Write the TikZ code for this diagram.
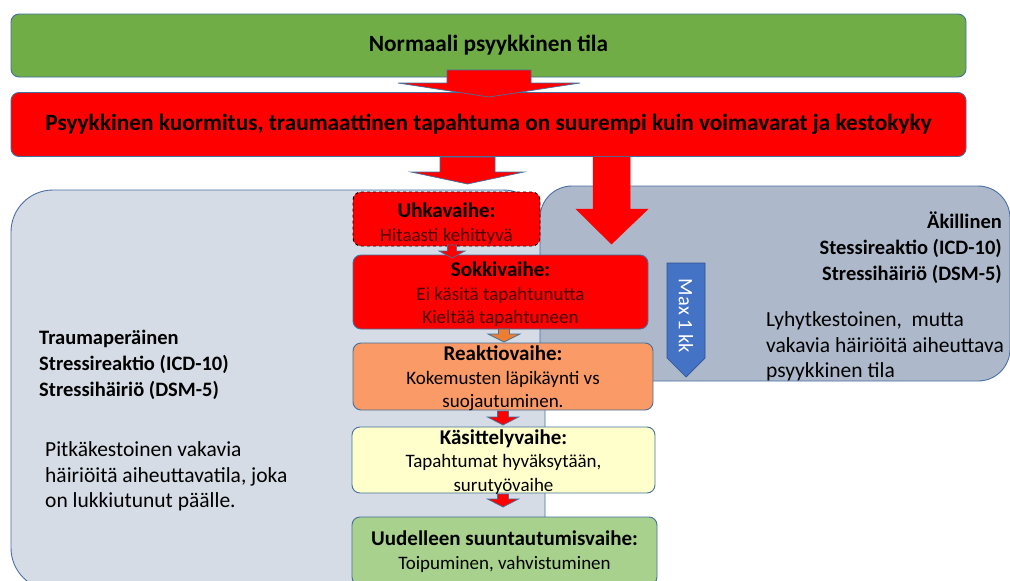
\documentclass[tikz,border=0pt]{standalone}
\usepackage{fontspec}
\setmainfont{Carlito}
\definecolor{bordc}{HTML}{41719C}
\definecolor{panelb}{HTML}{4A6FA5}
\definecolor{leftc}{HTML}{D6DCE5}
\definecolor{rightc}{HTML}{ADB9CA}
\definecolor{greentop}{HTML}{70AD47}
\definecolor{redc}{HTML}{FF0000}
\definecolor{orangec}{HTML}{FA9A66}
\definecolor{orangea}{HTML}{ED7D31}
\definecolor{yellowc}{HTML}{FFFFCC}
\definecolor{greenl}{HTML}{A9D18E}
\definecolor{bluea}{HTML}{4472C4}
\definecolor{bluead}{HTML}{2F528F}
\definecolor{darkred}{HTML}{4A0000}
\newcommand\blkarrow[7]{%
  \filldraw[fill=#7, draw=bordc, line width=0.7pt, line join=miter]
    (#1-#5,#2) -- (#1+#5,#2) -- (#1+#5,#3) -- (#1+#6,#3) -- (#1,#4)
    -- (#1-#6,#3) -- (#1-#5,#3) -- cycle;}
\newcommand\stagehead[1]{\textbf{\fontsize{21}{24}\selectfont #1}}
\begin{document}
\begin{tikzpicture}[x=1pt,y=-1pt,
  topbox/.style={draw=bordc, line width=0.9pt, rounded corners=8pt, inner sep=0pt,
    align=center},
  panel/.style={draw=panelb, line width=0.9pt, inner sep=0pt},
  stagebox/.style={draw=bordc, line width=0.9pt, rounded corners=8pt, inner sep=0pt},
  stagetext/.style={inner sep=0pt, align=center, font={\fontsize{19}{23.5}\selectfont}},
  head/.style={font={\fontsize{20.5}{25.5}\selectfont\bfseries}},
  body/.style={font={\fontsize{21.5}{25.5}\selectfont}}]
\useasboundingbox (0,0) rectangle (1010,581);
\clip (0,0) rectangle (1010,581);

% panels
\node[panel, fill=leftc, minimum width=534pt, minimum height=400pt, rounded corners=42pt] (lp) at (278,390) {};
\node[panel, fill=rightc, minimum width=470pt, minimum height=195pt, rounded corners=32pt] (rp) at (775,283.5) {};

% panel texts
\node[font={\fontsize{20.5}{26}\selectfont\bfseries}, anchor=west, align=left, inner sep=0pt] (lhead) at (39,364.5)
  {Traumaperäinen\\Stressireaktio (ICD-10)\\Stressihäiriö (DSM-5)};
\node[body, anchor=west, align=left, inner sep=0pt] (lbody) at (45,476.5)
  {Pitkäkestoinen vakavia\\häiriöitä aiheuttavatila, joka\\on lukkiutunut päälle.};
\node[font={\fontsize{20.5}{26}\selectfont\bfseries}, anchor=east, align=right, inner sep=0pt] (rhead) at (1002,247.5)
  {Äkillinen\\Stessireaktio (ICD-10)\\Stressihäiriö (DSM-5)};
\node[body, anchor=west, align=left, inner sep=0pt] (rbody) at (766,346.5)
  {Lyhytkestoinen,\ \ mutta\\vakavia häiriöitä aiheuttava\\psyykkinen tila};

% top boxes
\node[topbox, fill=greentop, minimum width=955pt, minimum height=63pt,
  font={\fontsize{23.3}{27}\selectfont\bfseries}] (normal) at (488.5,45.5)
  {Normaali psyykkinen tila};
\node[topbox, fill=redc, minimum width=955pt, minimum height=64pt,
  font={\fontsize{23.3}{27}\selectfont\bfseries}] (load) at (488.5,124.5)
  {Psyykkinen kuormitus, traumaattinen tapahtuma on suurempi kuin voimavarat ja kestokyky};

% big arrows
\blkarrow{489}{70}{83}{97}{42}{91}{redc}
\blkarrow{467.5}{157}{172}{184}{27.5}{56.5}{redc}
\filldraw[fill=redc, draw=redc, line width=0.5pt]
  (593,157) -- (630,157) -- (630,209) -- (648,209) -- (611.5,244) -- (576,209) -- (593,209) -- cycle;

% Max 1 kk
\filldraw[fill=bluea, draw=bluead, line width=0.7pt]
  (667,263) -- (705,263) -- (705,358) -- (686,377) -- (667,358) -- cycle;
\node[rotate=-90, text=white, font={\fontsize{20.5}{22}\selectfont}, inner sep=0pt] (max) at (686,316) {Max 1 kk};

% stage boxes
\node[stagebox, fill=redc, dashed, draw=black, minimum width=187pt, minimum height=54pt] (uhka) at (446.5,219) {};
\node[stagebox, fill=redc, minimum width=295pt, minimum height=74pt] (sokki) at (500.5,292) {};
\node[stagebox, fill=orangec, minimum width=300pt, minimum height=67pt] (reaktio) at (503,376.5) {};
\node[stagebox, fill=yellowc, minimum width=303pt, minimum height=66pt] (kasittely) at (503.5,460) {};
\node[stagebox, fill=greenl, minimum width=305pt, minimum height=68pt] (uudelleen) at (504.5,551) {};

\node[stagetext] (uhkat) at ([yshift=-4.5pt]uhka.center)
  {\stagehead{Uhkavaihe:}\\\textcolor{darkred}{Hitaasti kehittyvä}};
\node[stagetext] (sokkit) at ([yshift=-2.5pt]sokki.center)
  {\stagehead{Sokkivaihe:}\\\textcolor{darkred}{Ei käsitä tapahtunutta}\\\textcolor{darkred}{Kieltää tapahtuneen}};
\node[stagetext] (reaktiot) at ([yshift=-2pt]reaktio.center)
  {\stagehead{Reaktiovaihe:}\\Kokemusten läpikäynti vs\\suojautuminen.};
\node[stagetext] (kasittelyt) at ([yshift=-2pt]kasittely.center)
  {\stagehead{Käsittelyvaihe:}\\Tapahtumat hyväksytään,\\surutyövaihe};
\node[stagetext] (uudelleent) at ([yshift=-0.5pt]uudelleen.center)
  {\stagehead{Uudelleen suuntautumisvaihe:}\\Toipuminen, vahvistuminen};

% small arrows
\blkarrow{452}{245}{251}{258}{4.5}{13}{redc}
\blkarrow{504}{329}{334}{342}{5.5}{16}{orangea}
\blkarrow{503}{411}{417}{425}{5.5}{15.5}{redc}
\blkarrow{503}{494}{499}{507}{5.5}{15.5}{redc}
\end{tikzpicture}
\end{document}
